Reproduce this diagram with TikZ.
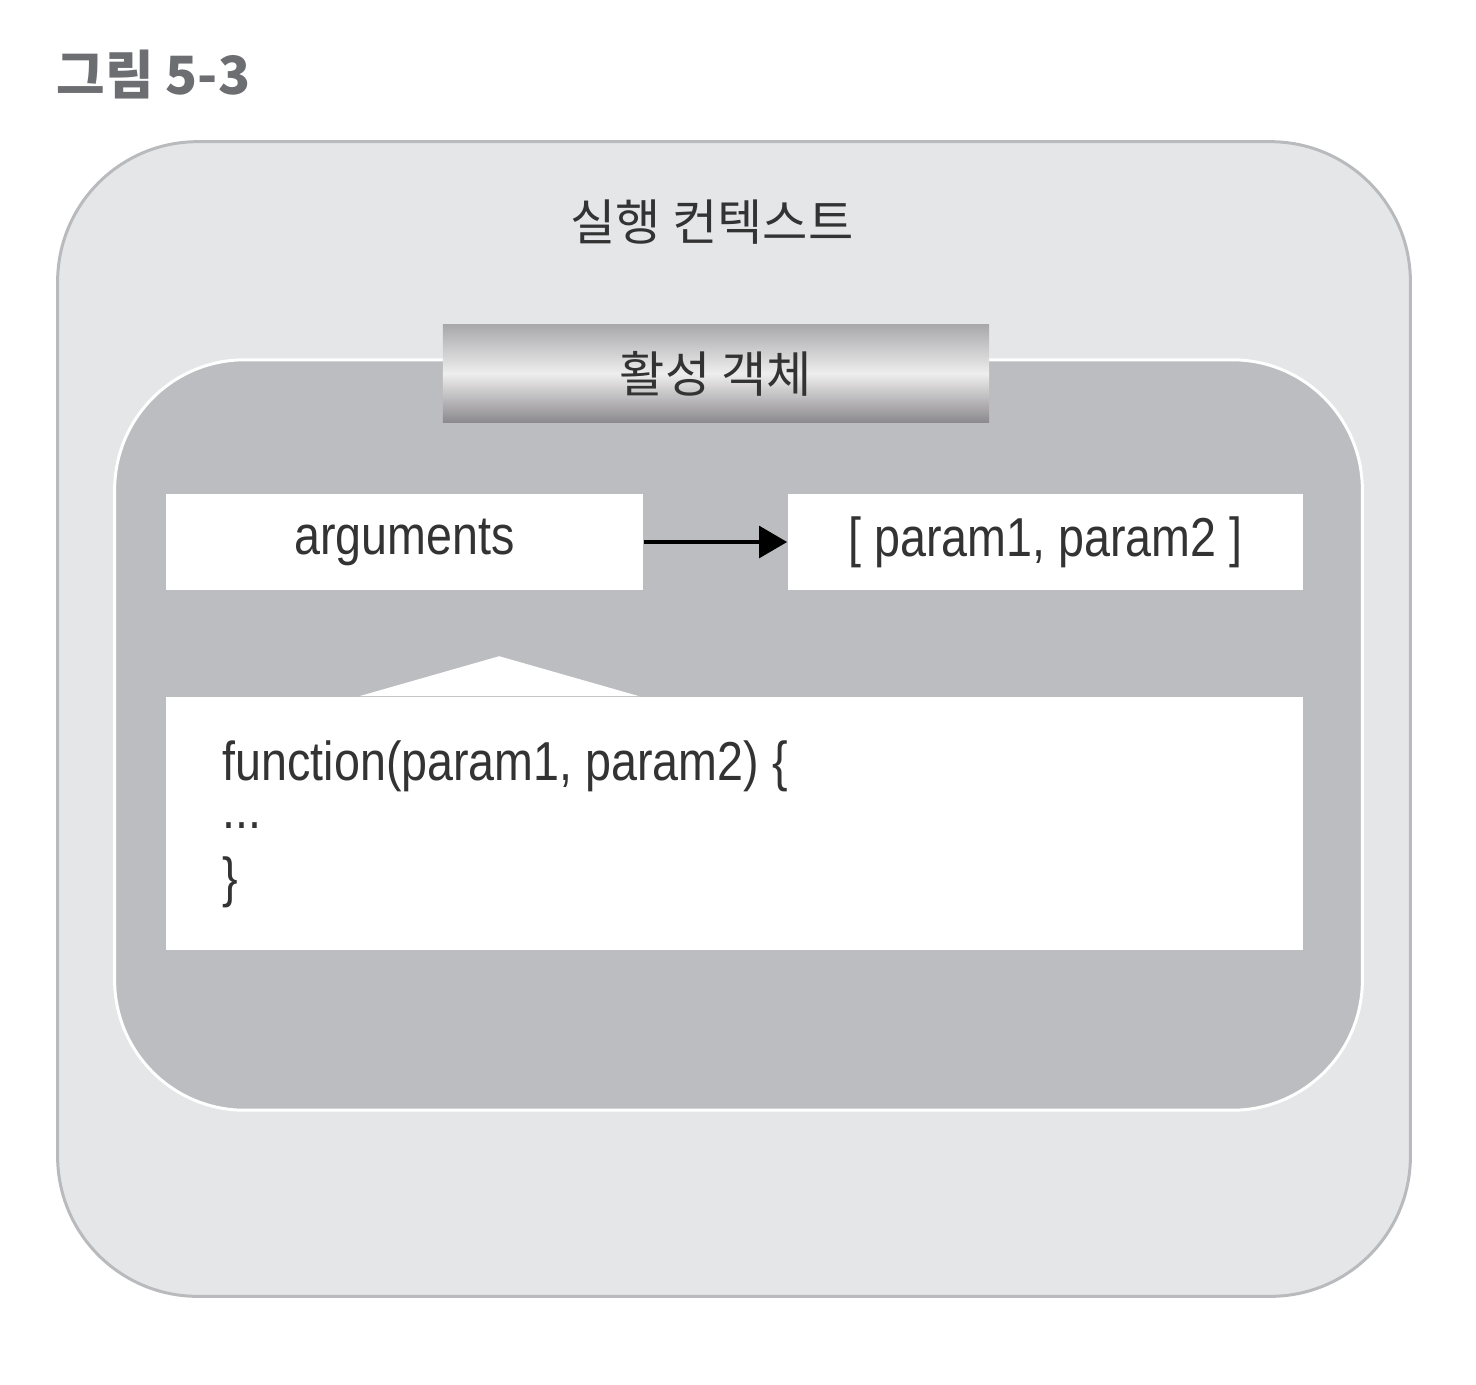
\documentclass[tikz,border=0pt]{standalone}
\usepackage{fontspec}
\setmainfont{Liberation Sans}[FakeStretch=0.85]
\newfontfamily\kr{Noto Sans CJK KR}
\usetikzlibrary{arrows.meta}

\definecolor{outerfill}{HTML}{E5E6E8}
\definecolor{outerline}{HTML}{B9BABD}
\definecolor{innerfill}{HTML}{BCBDC0}
\definecolor{bartop}{HTML}{A9A8AB}
\definecolor{barmid}{HTML}{EFEEEE}
\definecolor{barbottom}{HTML}{8C8A8E}
\definecolor{txt}{HTML}{333333}
\definecolor{titlegray}{HTML}{6D6E72}

\begin{document}
\begin{tikzpicture}[x=0.01cm, y=-0.01cm,
		whitebox/.style={fill=white, minimum width=#1, minimum height=0.96cm, inner sep=0pt, text=txt, font=\fontsize{15.6}{17}\selectfont},
		krlabel/.style={text=txt, font=\kr\fontsize{14}{16}\selectfont}]
				\useasboundingbox (0,0) rectangle (1476,1384);
				\node[anchor=base west, inner sep=0pt, text=titlegray, font=\kr\bfseries\fontsize{15}{18}\selectfont] (title) at (56,94) {그림 5-3};
				\node[draw=outerline, line width=0.85pt, fill=outerfill, rounded corners=1.4cm, minimum width=13.52cm, minimum height=11.54cm, inner sep=0pt] (context) at (734,719) {};
				\node[krlabel] (contextlabel) at (712,222) {실행 컨텍스트};
				\node[draw=white, line width=0.85pt, fill=innerfill, rounded corners=1.3cm, minimum width=12.47cm, minimum height=7.5cm, inner sep=0pt] (activation) at (738.5,735) {};
				\node[krlabel, top color=bartop, bottom color=barbottom, middle color=barmid, minimum width=5.46cm, minimum height=0.97cm, inner sep=0pt] (header) at (716,373.5) {활성 객체};
				\node[whitebox=4.77cm] (args) at (404.5,542) {arguments};
				\node[whitebox=5.15cm] (params) at (1045.5,542) {[ param1, param2 ]};
				\draw[line width=1.2pt, -{Triangle[length=8pt, width=9pt]}] (args) -- (params);
				\node[fill=white, minimum width=11.37cm, minimum height=2.53cm, inner sep=0pt] (code) at (734.5,823.5) {};
				\fill[white] ([xshift=1.94cm]code.north west) -- ([xshift=3.34cm, yshift=0.4cm]code.north west) -- ([xshift=4.74cm]code.north west) -- cycle;
				\node[anchor=north west, align=left, inner sep=0pt, text=txt, font=\fontsize{15.6}{16.5}\selectfont] (codetext) at (222,740) {function(param1, param2) \{\\[-2.8pt] ...\\[2.8pt] \}};
			\end{tikzpicture}
\end{document}
